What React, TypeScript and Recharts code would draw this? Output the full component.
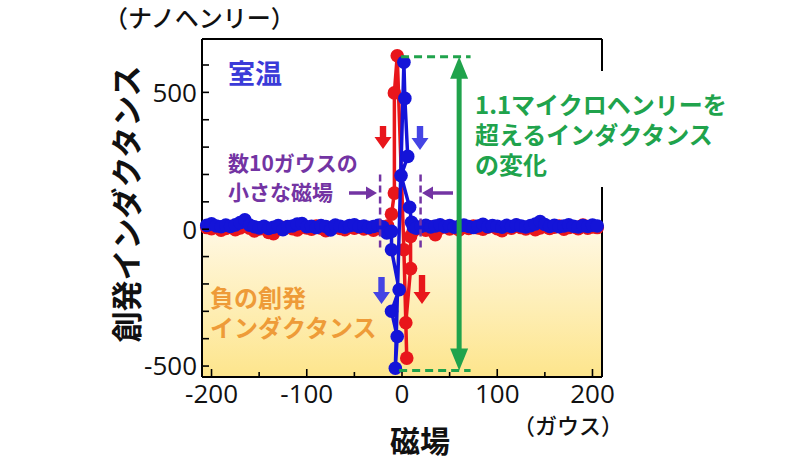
import React from "react";
import { ScatterChart, Scatter, XAxis, YAxis, ReferenceArea } from "recharts";

// field (gauss) of the flat part of each sweep
const fieldLeft = [
  -205, -200, -195, -190, -185, -180, -175, -170, -165, -160, -155, -150, -145,
  -140, -135, -130, -125, -120, -115, -110, -105, -100, -95, -90, -85, -80, -75,
  -70, -65, -60, -55, -50, -45, -40, -35, -30, -25, -20,
];
const fieldRight = [
  15, 20, 25, 30, 35, 40, 45, 50, 55, 60, 65, 70, 75, 80, 85, 90, 95, 100, 105,
  110, 115, 120, 125, 130, 135, 140, 145, 150, 155, 160, 165, 170, 175, 180, 185,
  190, 195, 200, 205,
];

// inductance (nH) on the flat parts
const blueLeft = [
  14, 20, 12, 9, 15, 10, 16, 24, 34, 15, 9, 5, 11, 3, 7, 13, -2, 10, 12, 19, 21,
  9, 11, 6, 13, 10, -3, 15, 11, 7, 13, 16, 9, 12, 6, 10, 14, 8,
];
const blueRight = [
  4, 10, 14, 8, 12, 16, 9, 13, 7, 11, 15, 10, 6, 12, 18, 9, 13, 11, 7, 14, 10,
  16, 12, 8, 13, 19, 28, 17, 10, 14, 9, 12, 16, 11, 8, 13, 10, 15, 12,
];
const redLeft = [
  6, 2, 8, -4, 3, 10, -2, 5, 12, 4, -6, 1, 7, -12, -16, 3, 6, 9, 2, -3, 8, 5, 0,
  12, 4, -5, 6, 10, 3, -2, 7, 4, 9, 1, 6, -4, 3, 8,
];
const redRight = [
  2, 5, -4, 8, -20, 4, 10, 1, 6, -3, 9, 3, 12, 5, 0, 7, 11, 2, -5, 8, 4, 14, 6,
  1, 9, -2, 5, 10, 3, 7, 12, 0, 6, 9, 2, 15, 4, 8, 6,
];

// switching region, in sweep order
const blueCoreX = [-16, -11, -11, -3, -11, -5, -7, 2, 3, 6, -1, 8, 10, 12];
const blueCoreY = [-14, -8, -75, -221, -300, -392, -508, 610, 478, 266, 196, 80, 25, 8];
const redCoreX = [-15, -11, -8, -8, -5, 2, 5, 4, 9, 9, 12];
const redCoreY = [12, 55, 132, 498, 634, -75, -471, -342, -144, -26, -5];

const xTicks = [-200, -150, -100, -50, 0, 50, 100, 150, 200];
const yTicks = [-500, -400, -300, -200, -100, 0, 100, 200, 300, 400, 500, 600];
const xLabels = [-200, -100, 0, 100, 200];
const yLabels = [-500, 0, 500];

const zip = (xs: number[], ys: number[]) => xs.map((x, i) => ({ x, y: ys[i] }));

const redData = [...zip(fieldLeft, redLeft), ...zip(redCoreX, redCoreY), ...zip(fieldRight, redRight)];
const blueData = [...zip(fieldLeft, blueLeft), ...zip(blueCoreX, blueCoreY), ...zip(fieldRight, blueRight)];

const X_DOMAIN = [-210, 210];
const Y_DOMAIN = [-540, 695];
const W = 800;
const H = 460;
// plot box: x 202..602, y 39..377
const PLOT = { left: 202, top: 39, right: 602, bottom: 377 };
const AX = { bottom: 40, top: 10, left: 60, right: 10 };
const M = {
  top: PLOT.top - AX.top,
  bottom: H - PLOT.bottom - AX.bottom,
  left: PLOT.left - AX.left,
  right: W - PLOT.right - AX.right,
};
const PW = PLOT.right - PLOT.left;
const PH = PLOT.bottom - PLOT.top;

// same linear mapping as the chart, for the annotations
const sx = (v: number) => PLOT.left + ((v - X_DOMAIN[0]) / (X_DOMAIN[1] - X_DOMAIN[0])) * PW;
const sy = (v: number) => PLOT.top + ((Y_DOMAIN[1] - v) / (Y_DOMAIN[1] - Y_DOMAIN[0])) * PH;

const RED = "#e8161b";
const BLUE = "#1414d8";
const GREEN = "#20a34c";
const PURPLE = "#7334a3";
const ORANGE = "#ee9b38";
const NUM_FONT = "'Open Sans', 'DejaVu Sans', sans-serif";
const JP_FONT = "'Noto Sans CJK JP', 'Noto Sans', sans-serif";

function BottomTick(p: any) {
  const v = p.payload.value;
  const major = xLabels.includes(v);
  return (
    <g>
      <line x1={p.x} x2={p.x} y1={p.y} y2={p.y - (major ? 8 : 5)} stroke="#000" strokeWidth={1.6} />
      {major && (
        <text x={p.x} y={p.y + 26} textAnchor="middle" fontSize={26} fontFamily={NUM_FONT} fill="#111">
          {v}
        </text>
      )}
    </g>
  );
}

function TopTick(p: any) {
  const major = xLabels.includes(p.payload.value);
  return <line x1={p.x} x2={p.x} y1={p.y} y2={p.y + (major ? 8 : 5)} stroke="#000" strokeWidth={1.6} />;
}

function LeftTick(p: any) {
  const v = p.payload.value;
  return (
    <g>
      <line x1={p.x} x2={p.x + 7} y1={p.y} y2={p.y} stroke="#000" strokeWidth={1.6} />
      {yLabels.includes(v) && (
        <text x={p.x - 5} y={p.y} dy="0.36em" textAnchor="end" fontSize={26} fontFamily={NUM_FONT} fill="#111">
          {v}
        </text>
      )}
    </g>
  );
}

function RightTick(p: any) {
  return <line x1={p.x} x2={p.x - 7} y1={p.y} y2={p.y} stroke="#000" strokeWidth={1.6} />;
}

const dot = (color: string) => (p: any) => <circle cx={p.cx} cy={p.cy} r={6.8} fill={color} />;

function DownArrow({ cx, top, bottom, color }: { cx: number; top: number; bottom: number; color: string }) {
  const hb = bottom - 12;
  const pts = [
    [cx - 3.2, top], [cx + 3.2, top], [cx + 3.2, hb], [cx + 8.5, hb],
    [cx, bottom], [cx - 8.5, hb], [cx - 3.2, hb],
  ];
  return <polygon points={pts.map((q) => q.join(",")).join(" ")} fill={color} />;
}

function HArrow({ from, to, y, color }: { from: number; to: number; y: number; color: string }) {
  const dir = to > from ? 1 : -1;
  const base = to - dir * 11;
  return (
    <g>
      <line x1={from} x2={base} y1={y} y2={y} stroke={color} strokeWidth={3.5} />
      <polygon points={`${to},${y} ${base},${y - 6.5} ${base},${y + 6.5}`} fill={color} />
    </g>
  );
}

function Annotations() {
  const gx = sx(60);
  const gTop = sy(630);
  const gBot = sy(-516);
  const glow = { stroke: "#ffffff", strokeWidth: 3, paintOrder: "stroke" as const, strokeLinejoin: "round" as const };
  return (
    <svg width={W} height={H} style={{ position: "absolute", left: 0, top: 0, pointerEvents: "none" }}>
      {/* white box behind the green note */}
      <rect x={466} y={71} width={290} height={116} fill="#ffffff" />

      {/* axis titles */}
      <text x={104} y={27} fontSize={24} fontWeight={500} fontFamily={JP_FONT} fill="#111">（ナノヘンリー）</text>
      <text
        x={124}
        y={204}
        transform="rotate(-90, 124, 204)"
        textAnchor="middle"
        dominantBaseline="central"
        fontSize={31}
        fontWeight={700}
        fontFamily={JP_FONT}
        fill="#111"
      >
        創発インダクタンス
      </text>
      <text x={420} y={452} textAnchor="middle" fontSize={30} fontWeight={700} fontFamily={JP_FONT} fill="#111">磁場</text>
      <text x={568} y={434} textAnchor="middle" fontSize={22} fontWeight={500} fontFamily={JP_FONT} fill="#111">（ガウス）</text>

      {/* notes */}
      <text x={228} y={84} fontSize={27} fontWeight={700} fontFamily={JP_FONT} fill="#3b3bd8" {...glow}>室温</text>
      <text x={228} y={171} fontSize={21} fontWeight={700} fontFamily={JP_FONT} fill={PURPLE} {...glow}>数10ガウスの</text>
      <text x={228} y={200} fontSize={21} fontWeight={700} fontFamily={JP_FONT} fill={PURPLE} {...glow}>小さな磁場</text>
      <text x={210} y={307} fontSize={24} fontWeight={700} fontFamily={JP_FONT} fill={ORANGE}>負の創発</text>
      <text x={210} y={337} fontSize={24} fontWeight={700} fontFamily={JP_FONT} fill={ORANGE}>インダクタンス</text>
      <text x={475} y={114} fontSize={24} fontWeight={700} fontFamily={JP_FONT} fill={GREEN}>1.1マイクロヘンリーを</text>
      <text x={475} y={144} fontSize={24} fontWeight={700} fontFamily={JP_FONT} fill={GREEN}>超えるインダクタンス</text>
      <text x={475} y={174} fontSize={24} fontWeight={700} fontFamily={JP_FONT} fill={GREEN}>の変化</text>

      {/* field window */}
      <line x1={sx(-23)} x2={sx(-23)} y1={sy(200)} y2={sy(-68)} stroke={PURPLE} strokeWidth={2.5} strokeDasharray="7 4" />
      <line x1={sx(19.5)} x2={sx(19.5)} y1={sy(200)} y2={sy(-68)} stroke={PURPLE} strokeWidth={2.5} strokeDasharray="7 4" />
      <HArrow from={349} to={377} y={193} color={PURPLE} />
      <HArrow from={453} to={422} y={193} color={PURPLE} />

      {/* sweep direction arrows */}
      <DownArrow cx={383} top={126} bottom={149} color={RED} />
      <DownArrow cx={420} top={126} bottom={150} color="#4444e4" />
      <DownArrow cx={381.5} top={277} bottom={304} color="#4444e4" />
      <DownArrow cx={422} top={275} bottom={304} color={RED} />

      {/* total change */}
      <line x1={sx(-1)} x2={sx(72)} y1={gTop} y2={gTop} stroke={GREEN} strokeWidth={3} strokeDasharray="8 5" />
      <line x1={sx(-3)} x2={sx(72)} y1={gBot} y2={gBot} stroke={GREEN} strokeWidth={3} strokeDasharray="8 5" />
      <line x1={gx} x2={gx} y1={gTop + 18} y2={gBot - 18} stroke={GREEN} strokeWidth={5} />
      <polygon points={`${gx},${gTop} ${gx - 9},${gTop + 22} ${gx + 9},${gTop + 22}`} fill={GREEN} />
      <polygon points={`${gx},${gBot} ${gx - 9},${gBot - 22} ${gx + 9},${gBot - 22}`} fill={GREEN} />
    </svg>
  );
}

const axisLine = { stroke: "#000", strokeWidth: 2 };

export default function App() {
  return (
    <div style={{ position: "absolute", left: 0, top: 0, width: W, height: H, background: "#fff" }}>
      <ScatterChart width={W} height={H} margin={M}>
        <defs>
          <linearGradient id="negGrad" x1="0" y1="0" x2="0" y2="1">
            <stop offset="0" stopColor="#fff8e3" />
            <stop offset="1" stopColor="#fde58c" />
          </linearGradient>
        </defs>
        <XAxis
          type="number"
          dataKey="x"
          domain={X_DOMAIN}
          ticks={xTicks}
          interval={0}
          height={AX.bottom}
          tickSize={0}
          tickMargin={0}
          tickLine={false}
          axisLine={axisLine}
          tick={(p: any) => <BottomTick {...p} />}
        />
        <XAxis
          xAxisId="top"
          orientation="top"
          type="number"
          domain={X_DOMAIN}
          ticks={xTicks}
          interval={0}
          height={AX.top}
          tickSize={0}
          tickMargin={0}
          tickLine={false}
          axisLine={axisLine}
          tick={(p: any) => <TopTick {...p} />}
        />
        <YAxis
          type="number"
          dataKey="y"
          domain={Y_DOMAIN}
          ticks={yTicks}
          interval={0}
          width={AX.left}
          tickSize={0}
          tickMargin={0}
          tickLine={false}
          axisLine={axisLine}
          tick={(p: any) => <LeftTick {...p} />}
        />
        <YAxis
          yAxisId="right"
          orientation="right"
          type="number"
          domain={Y_DOMAIN}
          ticks={yTicks}
          interval={0}
          width={AX.right}
          tickSize={0}
          tickMargin={0}
          tickLine={false}
          axisLine={axisLine}
          tick={(p: any) => <RightTick {...p} />}
        />
        <ReferenceArea x1={X_DOMAIN[0]} x2={X_DOMAIN[1]} y1={Y_DOMAIN[0]} y2={0} fill="url(#negGrad)" fillOpacity={1} stroke="none" />
        <Scatter
          data={redData}
          fill={RED}
          isAnimationActive={false}
          line={{ stroke: RED, strokeWidth: 3.5 }}
          shape={dot(RED)}
        />
        <Scatter
          data={blueData}
          fill={BLUE}
          isAnimationActive={false}
          line={{ stroke: BLUE, strokeWidth: 3.5 }}
          shape={dot(BLUE)}
        />
      </ScatterChart>
      <Annotations />
    </div>
  );
}
